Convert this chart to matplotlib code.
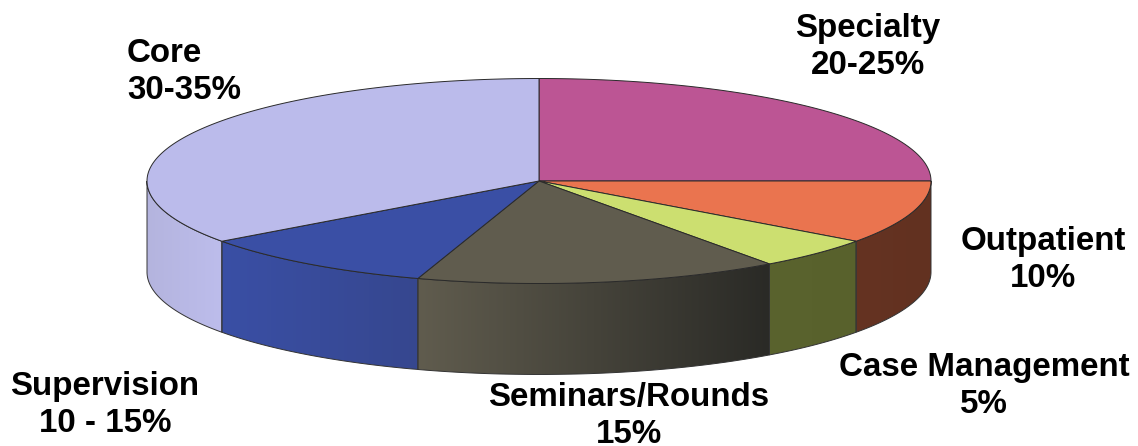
import numpy as np
import matplotlib
matplotlib.use("Agg")
import matplotlib.pyplot as plt
from matplotlib.patches import Polygon
from matplotlib.colors import LinearSegmentedColormap

labels = ["Specialty", "Outpatient", "Case Management", "Seminars/Rounds", "Supervision", "Core"]
ranges = ["20-25%", "10%", "5%", "15%", "10 - 15%", "30-35%"]
shares = [25, 10, 5, 15, 10, 35]
top_colors = ["#BC5594", "#EA744F", "#CCDF70", "#605C4E", "#3A4FA5", "#BBBBEB"]
side_left = ["#BC5594", "#653322", "#5A632E", "#605C4E", "#3A4FA5", "#B4B4DE"]
side_right = ["#BC5594", "#623120", "#58612C", "#2A2A26", "#36478F", "#BDBDEC"]
label_xy = [(868, 47), (1043, 260), (984, 386), (629, 416), (105, 405), (127, 72)]
label_ha = ["center", "center", "center", "center", "center", "left"]

CX, CY, RX, RY, DEPTH = 539, 181, 392, 102.5, 91

fig = plt.figure(figsize=(11.38, 4.46), dpi=100)
ax = fig.add_axes([0, 0, 1, 1])
ax.axis("off")


def rim(a0, a1, n=120):
    t = np.radians(np.linspace(a0, a1, n))
    return CX + RX * np.cos(t), CY - RY * np.sin(t)


start = 90.0
wedges = []
for s in shares:
    end = start - s * 3.6
    wedges.append((start, end))
    start = end

# side walls (front half only: angles 0 to -180)
for i, (a0, a1) in enumerate(wedges):
    lo, hi = min(a0, 0), max(a1, -180)
    if hi >= lo:
        continue
    x, y = rim(lo, hi)
    pts = np.column_stack([np.r_[x, x[::-1]], np.r_[y, y[::-1] + DEPTH]])
    poly = Polygon(pts, closed=True, fc="none", ec="none")
    ax.add_patch(poly)
    cmap = LinearSegmentedColormap.from_list("s", [side_left[i], side_right[i]])
    im = ax.imshow(np.linspace(0, 1, 256)[None, :], cmap=cmap, aspect="auto",
                   extent=(x.min(), x.max(), y.max() + DEPTH, y.min()), zorder=1)
    im.set_clip_path(poly)
    ax.add_patch(Polygon(pts, closed=True, fc="none", ec="#333333", lw=0.7, zorder=2))

ax.set_xlim(0, 1138)
ax.set_ylim(446, 0)

# top faces
for i, (a0, a1) in enumerate(wedges):
    x, y = rim(a0, a1, 200)
    pts = np.column_stack([np.r_[CX, x], np.r_[CY, y]])
    ax.add_patch(Polygon(pts, closed=True, fc=top_colors[i], ec="#2A2A2A", lw=0.7, zorder=3))

for name, rng, (tx, ty), ha in zip(labels, ranges, label_xy, label_ha):
    ax.text(tx, ty, f"{name}\n{rng}", ha=ha, va="center",
            fontsize=23.9, fontweight="bold", family="Liberation Sans",
            color="black", linespacing=1.25, zorder=5)

fig.savefig("out.png", dpi=100)
